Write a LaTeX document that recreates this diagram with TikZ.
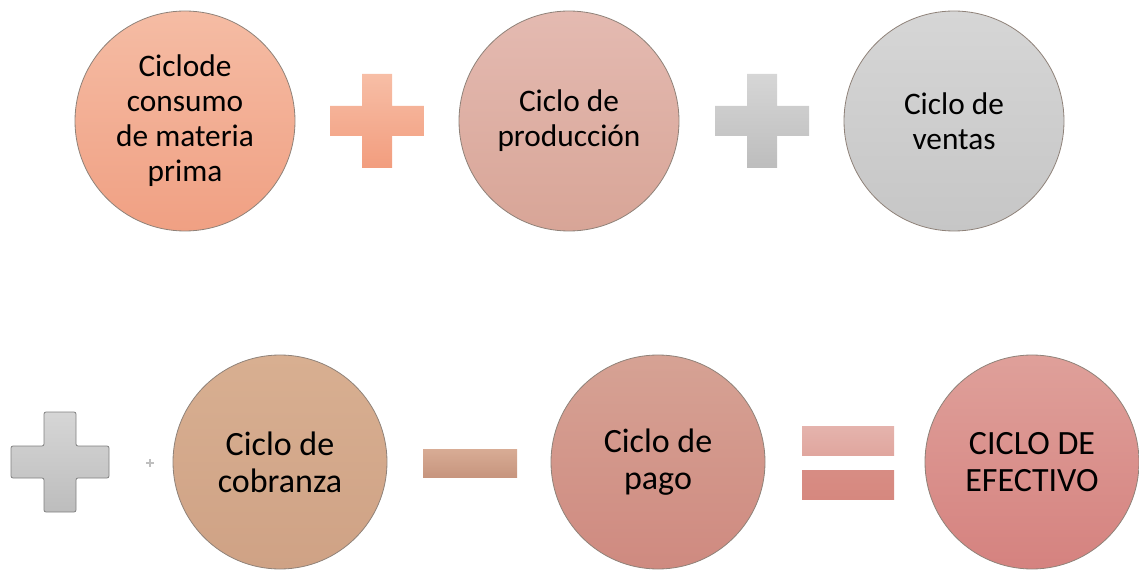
\documentclass[tikz,border=0pt]{standalone}
\usepackage{fontspec}
\setmainfont{Carlito}
\definecolor{cAtop}{HTML}{F5BCA4}\definecolor{cAbot}{HTML}{F0A083}
\definecolor{cBtop}{HTML}{E4BAB1}\definecolor{cBbot}{HTML}{D8A597}
\definecolor{cCtop}{HTML}{D6D6D6}\definecolor{cCbot}{HTML}{C6C6C6}
\definecolor{cDtop}{HTML}{D8AF91}\definecolor{cDbot}{HTML}{CFA285}
\definecolor{cEtop}{HTML}{D6A294}\definecolor{cEbot}{HTML}{CF8A80}
\definecolor{cFtop}{HTML}{DFA09A}\definecolor{cFbot}{HTML}{D5827F}
\definecolor{pAtop}{HTML}{F7BEA6}\definecolor{pAbot}{HTML}{F29D7E}
\definecolor{pGtop}{HTML}{D6D6D6}\definecolor{pGbot}{HTML}{BDBDBD}
\definecolor{mtop}{HTML}{D8AC95}\definecolor{mbot}{HTML}{C7957E}
\definecolor{eqA}{HTML}{E0A69E}\definecolor{eqB}{HTML}{D6887F}
\definecolor{edge}{HTML}{8F8279}
\tikzset{
  cyc/.style={circle, draw=edge, line width=0.6pt, inner sep=0pt, align=center,
    text=black, minimum size=165pt},
  topfont/.style={font=\fontsize{23.5}{26.25}\selectfont},
  botfont/.style={font=\fontsize{25.5}{27.75}\selectfont, minimum size=160.5pt},
}
\begin{document}
\begin{tikzpicture}[x=0.75pt, y=-0.75pt]
\useasboundingbox (0,0) rectangle (1139,570);
% top row circles
\node[cyc, topfont, top color=cAtop, bottom color=cAbot] (mp) at (185,121) {Ciclode\\consumo\\de materia\\prima};
\node[cyc, topfont, top color=cBtop, bottom color=cBbot] (prod) at (569,121) {Ciclo de\\producción};
\node[cyc, topfont, top color=cCtop, bottom color=cCbot] (vent) at (954,121) {Ciclo de\\ventas};
% bottom row circles
\node[cyc, botfont, top color=cDtop, bottom color=cDbot] (cob) at (280,462) {Ciclo de\\cobranza};
\node[cyc, botfont, top color=cEtop, bottom color=cEbot] (pago) at (658,462) {Ciclo de\\pago};
\node[cyc, botfont, top color=cFtop, bottom color=cFbot] (ce) at (1032,462) {CICLO DE\\EFECTIVO};
% plus signs
\path[top color=pAtop, bottom color=pAbot, shift={(377,121)}]
  (-47,-15) -- (-15,-15) -- (-15,-47) -- (15,-47) -- (15,-15) -- (47,-15) -- (47,15)
  -- (15,15) -- (15,47) -- (-15,47) -- (-15,15) -- (-47,15) -- cycle;
\path[top color=pGtop, bottom color=pGbot, shift={(762,121)}]
  (-47,-15) -- (-15,-15) -- (-15,-47) -- (15,-47) -- (15,-15) -- (47,-15) -- (47,15)
  -- (15,15) -- (15,47) -- (-15,47) -- (-15,15) -- (-47,15) -- cycle;
\path[draw=gray, line width=0.6pt, rounded corners=1.5pt, top color=pGtop, bottom color=pGbot, shift={(60,462)}]
  (-49,-16) -- (-16,-16) -- (-16,-50) -- (16,-50) -- (16,-16) -- (49,-16) -- (49,16)
  -- (16,16) -- (16,50) -- (-16,50) -- (-16,16) -- (-49,16) -- cycle;
\draw[gray!50, line width=0.8pt] (146,463) -- (154,463) (150,459) -- (150,467);
% minus
\path[top color=mtop, bottom color=mbot] (423,449) rectangle (517,477);
% equals
\path[top color=eqA!85!white, bottom color=eqA] (802,426) rectangle (894,455);
\path[top color=eqB!85!eqA, bottom color=eqB] (802,470) rectangle (894,499);
\end{tikzpicture}
\end{document}
